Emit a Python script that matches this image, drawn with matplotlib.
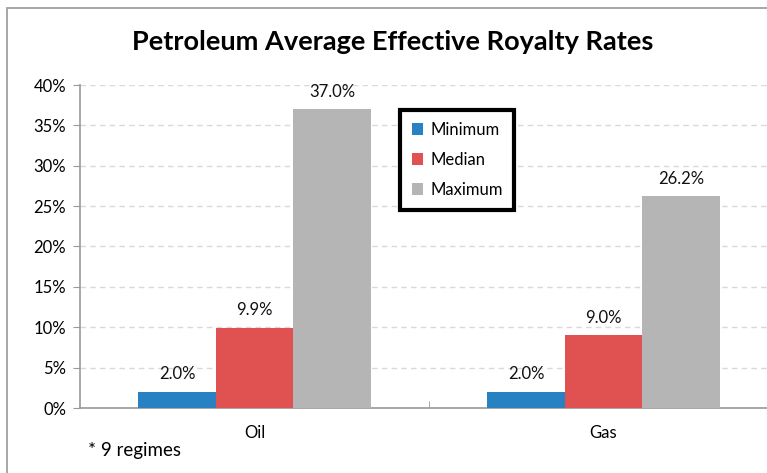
import matplotlib
matplotlib.use("Agg")
import matplotlib.pyplot as plt
from matplotlib.patches import Rectangle
from matplotlib.ticker import FuncFormatter, FixedLocator

categories = ["Oil", "Gas"]
series_names = ["Minimum", "Median", "Maximum"]
minimum = [2.0, 2.0]
median = [9.9, 9.0]
maximum = [37.0, 26.2]
colors = ["#2781C3", "#E05252", "#B5B5B5"]

plt.rcParams['font.family'] = ['Lato', 'DejaVu Sans']

fig = plt.figure(figsize=(7.67, 4.73), dpi=100)
ax = fig.add_axes([80/767, 1-408/473, (778-80)/767, (408-85)/473])

width = 0.222
xs = range(len(categories))
for i, (vals, name, c) in enumerate(zip([minimum, median, maximum], series_names, colors)):
    pos = [x + (i - 1) * width for x in xs]
    bars = ax.bar(pos, vals, width=width, color=c, label=name, zorder=3)
    for b, v in zip(bars, vals):
        ax.annotate(f"{v:.1f}%", (b.get_x() + b.get_width()/2, v),
                    xytext=(0, 7), textcoords="offset points",
                    ha="center", va="bottom", fontsize=12, color="#111111")

ax.set_xlim(-0.5, 1.5)
ax.set_ylim(0, 40)
ax.yaxis.set_major_locator(FixedLocator(range(0, 41, 5)))
ax.yaxis.set_major_formatter(FuncFormatter(lambda v, p: f"{v:.0f}%"))
ax.grid(axis="y", color="#d9d9d9", linestyle=(0, (4, 3)), linewidth=1, zorder=0)
ax.set_xticks([0, 1])
ax.set_xticklabels(categories)
ax.set_xticks([0.5], minor=True)
ax.tick_params(axis="x", which="major", length=0, pad=12, labelsize=12)
ax.tick_params(axis="x", which="minor", length=5, color="#999999", direction="in")
ax.tick_params(axis="y", length=5, color="#999999", labelsize=12, pad=5)
for s in ["top", "right"]:
    ax.spines[s].set_visible(False)
for s in ["left", "bottom"]:
    ax.spines[s].set_color("#9a9a9a")
    ax.spines[s].set_linewidth(1.2)

leg = ax.legend(loc="upper left", bbox_to_anchor=(400/767, 1-110/473), bbox_transform=fig.transFigure,
                frameon=True, fancybox=False, fontsize=12, handlelength=0.7, handleheight=0.7,
                labelspacing=0.85, borderpad=0.7, handletextpad=0.4, borderaxespad=0)
leg.get_frame().set_edgecolor("black")
leg.get_frame().set_linewidth(3)
leg.get_frame().set_alpha(1)
leg.set_zorder(5)

fig.text(393/767, 1-42/473, "Petroleum Average Effective Royalty Rates", ha="center", va="center",
         fontsize=19.5, fontweight="bold")
fig.text(88/767, 1-450/473, "* 9 regimes", ha="left", va="center", fontsize=13.5)

fig.add_artist(Rectangle((7/767, -0.1), 1.2, 1 - 8/473 + 0.1, transform=fig.transFigure,
                         fill=False, edgecolor="#a0a0a0", linewidth=1.3))

fig.savefig("out.png", dpi=100)
